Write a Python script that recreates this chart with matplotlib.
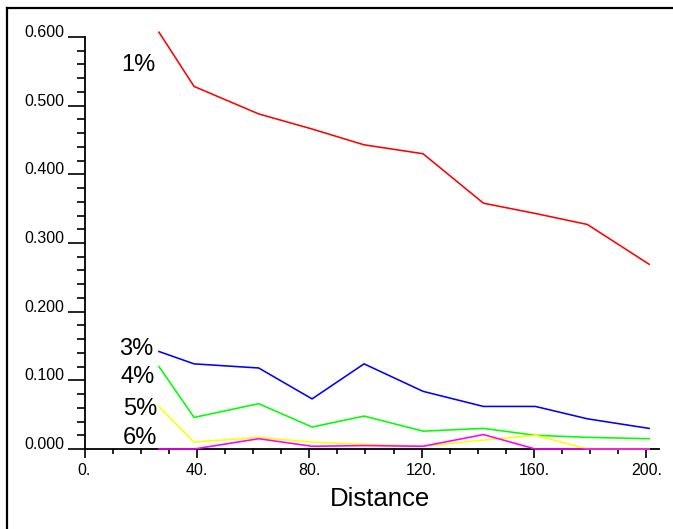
import matplotlib
matplotlib.use("Agg")
import matplotlib.pyplot as plt
from matplotlib.lines import Line2D
from matplotlib.ticker import FixedLocator

plt.rcParams['font.family'] = ['Liberation Sans', 'DejaVu Sans']

# Sampling distances
distance = [26.5, 39, 62, 81, 99.5, 120.5, 142, 160.5, 179, 201]

# Values for each percentage level
series_names = ['1%', '3%', '4%', '5%', '6%']
values_1 = [0.607, 0.528, 0.488, 0.466, 0.443, 0.430, 0.358, 0.343, 0.327, 0.269]
values_3 = [0.142, 0.124, 0.118, 0.073, 0.124, 0.084, 0.062, 0.062, 0.044, 0.030]
values_4 = [0.120, 0.046, 0.066, 0.032, 0.048, 0.026, 0.030, 0.020, 0.017, 0.015]
values_5 = [0.062, 0.010, 0.017, 0.010, 0.007, 0.004, 0.013, 0.020, 0.0, 0.0]
values_6 = [0.0, 0.0, 0.015, 0.004, 0.005, 0.004, 0.021, 0.0, 0.0, 0.0]
series_colors = ['#ff0000', '#0000ff', '#00ff00', '#ffff00', '#ff00ff']

# Label anchor points (right end, baseline) for the series names
label_x = [25.1, 24.4, 25.1, 25.8, 25.8]
label_y = [0.550, 0.137, 0.096, 0.0495, 0.0073]

xtick_values = [0, 40, 80, 120, 160, 200]
xtick_labels = ['0.', '40.', '80.', '120.', '160.', '200.']
ytick_values = [0.0, 0.1, 0.2, 0.3, 0.4, 0.5, 0.6]
ytick_labels = ['0.000', '0.100', '0.200', '0.300', '0.400', '0.500', '0.600']
xminor_step = 10
yminor_step = 0.02

fig = plt.figure(figsize=(6.73, 5.29), dpi=100)
ax = fig.add_axes([0.1256, 0.1512, 0.8536, 0.8048])

all_values = [values_1, values_3, values_4, values_5, values_6]
for vals, col in zip(all_values, series_colors):
    ax.plot(distance, vals, color=col, lw=1.15, solid_joinstyle='miter',
            clip_on=False, zorder=3)

for name, lx, ly in zip(series_names, label_x, label_y):
    ax.text(lx, ly, name, fontsize=17, ha='right', va='baseline', color='black')

ax.set_xlim(0, 204.5)
ax.set_ylim(0, 0.62)

for side in ('top', 'right'):
    ax.spines[side].set_visible(False)
for side in ('left', 'bottom'):
    ax.spines[side].set_linewidth(1.3)
    ax.spines[side].set_color('black')
ax.spines['left'].set_bounds(0, 0.6)

ax.xaxis.set_major_locator(FixedLocator(xtick_values))
ax.set_xticklabels(xtick_labels)
ax.xaxis.set_minor_locator(FixedLocator(
    [i * xminor_step for i in range(int(xtick_values[-1] / xminor_step) + 1)]))
ax.yaxis.set_major_locator(FixedLocator(ytick_values))
ax.set_yticklabels(ytick_labels)
ax.yaxis.set_minor_locator(FixedLocator(
    [round(i * yminor_step, 4) for i in range(int(round(ytick_values[-1] / yminor_step)) + 1)]))

ax.tick_params(axis='x', which='major', length=6.5, width=1.2, pad=3.5,
               labelsize=11.5, direction='out')
ax.tick_params(axis='x', which='minor', length=3.6, width=1.2, direction='out')
ax.tick_params(axis='y', which='major', length=12.2, width=1.2, pad=2.2,
               labelsize=11.5, direction='out')
ax.tick_params(axis='y', which='minor', length=5.8, width=1.2, direction='out')
for lbl in ax.get_yticklabels():
    lbl.set_va('baseline')

ax.set_xlabel('Distance', fontsize=18.5)
ax.xaxis.set_label_coords(0.514, -0.1339)
ax.xaxis.label.set_va('baseline')

# Outer frame along the top and left of the figure
fx = 6.8 / 673
fy = 1 - 7.7 / 529
fig.add_artist(Line2D([fx, fx], [-0.01, fy], transform=fig.transFigure,
                      color='black', lw=1.6, solid_capstyle='projecting'))
fig.add_artist(Line2D([fx, 1.01], [fy, fy], transform=fig.transFigure,
                      color='black', lw=1.6, solid_capstyle='projecting'))

fig.savefig('out.png', dpi=100)
